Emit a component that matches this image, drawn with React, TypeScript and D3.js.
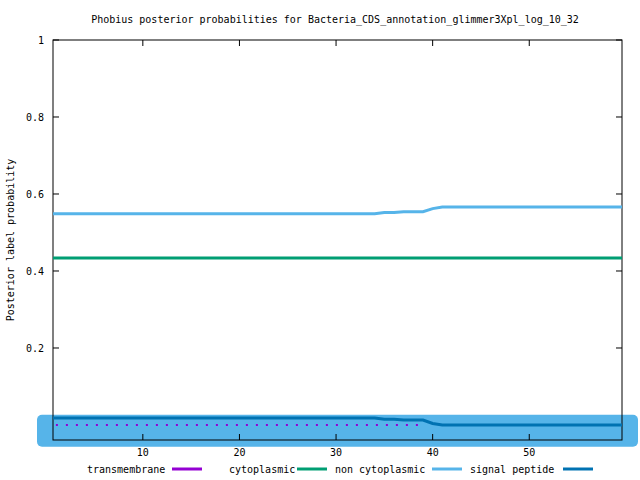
import React from "react";
import * as d3 from "d3";

const positions = [0.7, 59.6];
const signalX = [0.7, 34, 35, 36, 37, 39, 40, 41, 59.6];
const signalY = [0.549, 0.549, 0.552, 0.552, 0.554, 0.554, 0.562, 0.566, 0.566];
const darkX = [0.7, 34, 35, 36, 37, 39, 40, 41, 59.6];
const darkY = [0.018, 0.018, 0.015, 0.015, 0.013, 0.013, 0.004, 0.0, 0.0];
const nonCytoY = 0.434;
const tmX = [1, 39];
const tmY = [0, 0];
const bandY = -0.015;
const xTicks = [10, 20, 30, 40, 50];
const yTicks = [0.2, 0.4, 0.6, 0.8, 1];
const legendLabels = ["transmembrane", "cytoplasmic", "non cytoplasmic", "signal peptide"];
const legendColors = ["#9400d3", "#009e73", "#56b4e9", "#0072b2"];

export default function App() {
  const L = 53, R = 622, T = 40, B = 440;
  const x = d3.scaleLinear().domain([0.7, 59.6]).range([L, R]);
  const y = d3.scaleLinear().domain([-0.039, 1]).range([B, T]);
  const ln = d3.line<[number, number]>().x(d => x(d[0])).y(d => y(d[1]));
  const font = "'DejaVu Sans Mono', monospace";
  const legendX = [87, 229, 335, 470];
  const sampleX = [172, 297, 432, 563];
  const by = y(bandY);
  return (
    <svg width={640} height={480} style={{ position: "absolute", left: 0, top: 0 }} fontFamily={font} fontSize={10}>
      <rect width={640} height={480} fill="white" />
      <text x={335} y={23} textAnchor="middle">Phobius posterior probabilities for Bacteria_CDS_annotation_glimmer3Xpl_log_10_32</text>
      <rect x={x(0.7) - 16} y={by - 16} width={x(59.6) - x(0.7) + 32} height={32} rx={5} fill="#56b4e9" />
      <rect x={L} y={T} width={R - L} height={B - T} fill="none" stroke="black" strokeWidth={1} />
      {xTicks.map(t => (
        <g key={t}>
          <line x1={x(t)} x2={x(t)} y1={B} y2={B - 6} stroke="black" />
          <line x1={x(t)} x2={x(t)} y1={T} y2={T + 6} stroke="black" />
          <text x={x(t)} y={B + 16} textAnchor="middle">{t}</text>
        </g>
      ))}
      {yTicks.map(t => (
        <g key={t}>
          <line x1={L} x2={L + 6} y1={y(t)} y2={y(t)} stroke="black" />
          <line x1={R} x2={R - 6} y1={y(t)} y2={y(t)} stroke="black" />
          <text x={L - 9} y={y(t) + 4} textAnchor="end">{t}</text>
        </g>
      ))}
      <text transform={`translate(14,${(T + B) / 2}) rotate(-90)`} textAnchor="middle">Posterior label probability</text>
      <path d={ln(positions.map(p => [p, nonCytoY] as [number, number])) || ""} fill="none" stroke="#009e73" strokeWidth={3} />
      <path d={ln(signalX.map((v, i) => [v, signalY[i]] as [number, number])) || ""} fill="none" stroke="#56b4e9" strokeWidth={3} />
      <path d={ln(darkX.map((v, i) => [v, darkY[i]] as [number, number])) || ""} fill="none" stroke="#0072b2" strokeWidth={3} />
      <path d={ln(tmX.map((v, i) => [v, tmY[i]] as [number, number])) || ""} fill="none" stroke="#9400d3" strokeWidth={2} strokeDasharray="2,8" />
      {legendLabels.map((l, i) => (
        <g key={l}>
          <text x={legendX[i]} y={473}>{l}</text>
          <line x1={sampleX[i]} x2={sampleX[i] + 30} y1={469} y2={469} stroke={legendColors[i]} strokeWidth={3} />
        </g>
      ))}
    </svg>
  );
}
